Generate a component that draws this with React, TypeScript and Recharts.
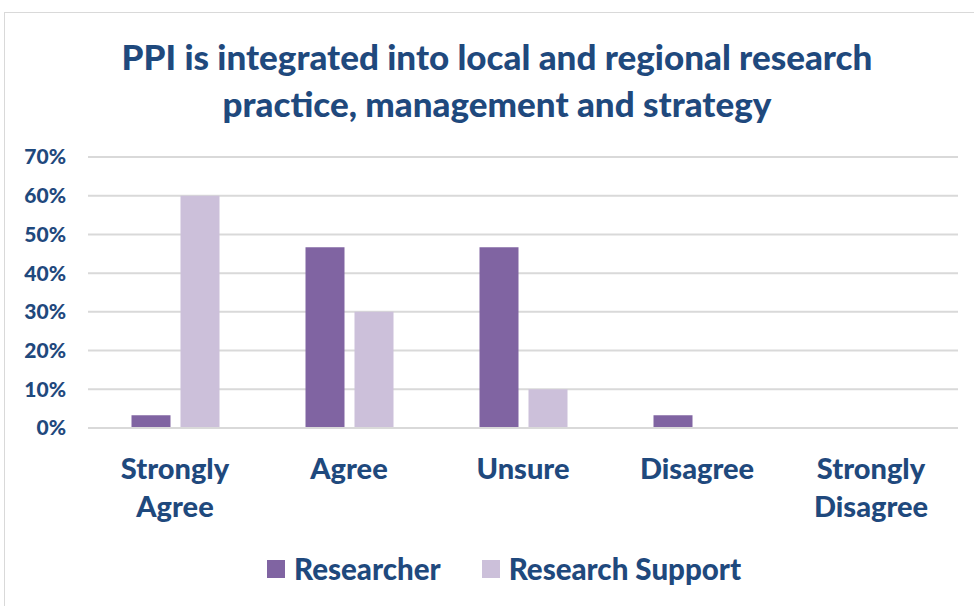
import { Bar, BarChart, CartesianGrid, XAxis, YAxis } from 'recharts'

const categories = ['Strongly Agree', 'Agree', 'Unsure', 'Disagree', 'Strongly Disagree']
const researcher = [0.033, 0.467, 0.467, 0.033, 0]
const researchSupport = [0.6, 0.3, 0.1, 0, 0]
const yTicks = [0, 0.1, 0.2, 0.3, 0.4, 0.5, 0.6, 0.7]

const TEXT = '#1F497D'
const DARK = '#8064A2'
const LIGHT = '#CCC0DA'
const FONT = 'Lato, "Open Sans", sans-serif'
const WEIGHT = 900

const data = categories.map((name, i) => ({
  name,
  researcher: researcher[i],
  support: researchSupport[i],
}))

const CategoryTick = (props: any) => {
  const { x, y, payload } = props
  const words = String(payload.value).split(' ')
  return (
    <text
      x={x}
      y={y}
      textAnchor="middle"
      fill={TEXT}
      fontSize={29}
      fontWeight={WEIGHT}
      fontFamily={FONT}
    >
      {words.map((w, i) => (
        <tspan key={w} x={x} dy={i === 0 ? 43 : 38}>
          {w}
        </tspan>
      ))}
    </text>
  )
}

const Swatch = ({ color, label }: { color: string; label: string }) => (
  <span style={{ display: 'inline-flex', alignItems: 'center', marginRight: 41 }}>
    <span style={{ width: 18, height: 18, background: color, marginRight: 9 }} />
    <span>{label}</span>
  </span>
)

export default function App() {
  return (
    <div
      style={{
        position: 'absolute',
        left: 0,
        top: 0,
        width: 974,
        height: 606,
        background: '#fff',
        fontFamily: FONT,
        overflow: 'hidden',
      }}
    >
      <div
        style={{
          position: 'absolute',
          left: 4,
          top: 12,
          width: 990,
          height: 620,
          border: '1px solid #d9d9d9',
        }}
      />
      <div
        style={{
          position: 'absolute',
          left: 0,
          top: 33,
          width: 994,
          textAlign: 'center',
          color: TEXT,
          fontSize: 35,
          fontWeight: WEIGHT,
          lineHeight: '47px',
        }}
      >
        PPI is integrated into local and regional research
        <br />
        practice, management and strategy
      </div>
      <BarChart
        width={974}
        height={606}
        data={data}
        margin={{ top: 157, right: 16, bottom: 78, left: 0 }}
        barCategoryGap="25%"
        barGap={10}
        style={{ position: 'absolute', left: 0, top: 0 }}
      >
        <CartesianGrid vertical={false} stroke="#d9d9d9" strokeWidth={2} />
        <XAxis
          dataKey="name"
          height={100}
          axisLine={{ stroke: '#d9d9d9', strokeWidth: 2 }}
          tickLine={false}
          tick={<CategoryTick />}
          interval={0}
        />
        <YAxis
          width={88}
          domain={[0, 0.7]}
          ticks={yTicks}
          tickFormatter={(v: number) => `${Math.round(v * 100)}%`}
          axisLine={false}
          tickLine={false}
          tickMargin={16}
          tick={{ fill: TEXT, fontSize: 21, fontWeight: WEIGHT, fontFamily: FONT }}
        />
        <Bar dataKey="researcher" name="Researcher" fill={DARK} isAnimationActive={false} />
        <Bar dataKey="support" name="Research Support" fill={LIGHT} isAnimationActive={false} />
      </BarChart>
      <div
        style={{
          position: 'absolute',
          left: 267,
          top: 551,
          color: TEXT,
          fontSize: 29.5,
          fontWeight: WEIGHT,
          display: 'flex',
          whiteSpace: 'nowrap',
        }}
      >
        <Swatch color={DARK} label="Researcher" />
        <Swatch color={LIGHT} label="Research Support" />
      </div>
    </div>
  )
}
